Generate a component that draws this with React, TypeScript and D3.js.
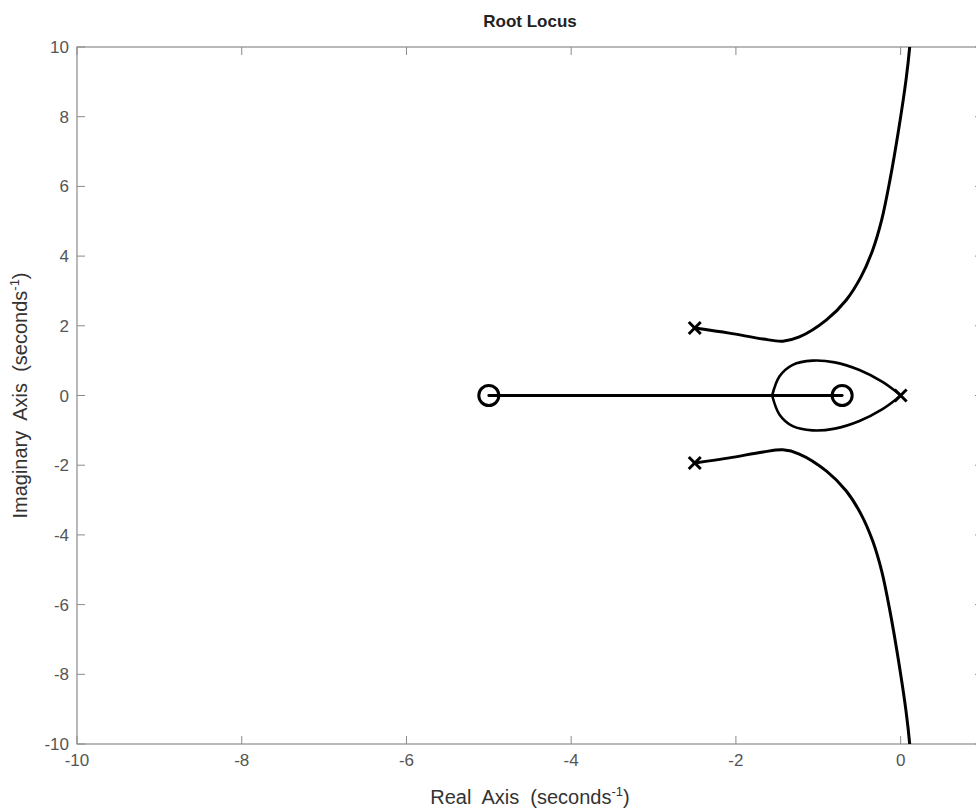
import React from "react";
import * as d3 from "d3";

type Pt = [number, number];

// values
const xTicks = [-10, -8, -6, -4, -2, 0];
const yTicks = [-10, -8, -6, -4, -2, 0, 2, 4, 6, 8, 10];

const poles: Pt[] = [
  [0, 0],
  [-2.5, 1.936],
  [-2.5, -1.936],
];
const zeros: Pt[] = [
  [-5, 0],
  [-0.71, 0],
];

const upperBranch: Pt[] = [
  [-2.5, 1.936],
  [-2.08, 1.79],
  [-1.67, 1.62],
  [-1.43, 1.56],
  [-1.23, 1.68],
  [-0.9, 2.17],
  [-0.66, 2.74],
  [-0.48, 3.41],
  [-0.34, 4.17],
  [-0.23, 5.04],
  [-0.13, 6.18],
  [-0.025, 7.62],
  [0.065, 9.05],
  [0.11, 10.0],
  [0.125, 10.5],
];
const lowerBranch: Pt[] = [
  [-2.5, -1.936],
  [-2.08, -1.79],
  [-1.67, -1.62],
  [-1.43, -1.56],
  [-1.23, -1.68],
  [-0.9, -2.17],
  [-0.66, -2.74],
  [-0.48, -3.41],
  [-0.34, -4.17],
  [-0.23, -5.04],
  [-0.13, -6.18],
  [-0.025, -7.62],
  [0.065, -9.05],
  [0.11, -10.0],
  [0.125, -10.5],
];
const loopUpper: Pt[] = [
  [0, 0],
  [-0.05, 0.1],
  [-0.22, 0.39],
  [-0.5, 0.73],
  [-0.8, 0.95],
  [-1.07, 1.0],
  [-1.31, 0.88],
  [-1.47, 0.55],
  [-1.56, 0],
];
const loopLower: Pt[] = [
  [0, 0],
  [-0.05, -0.1],
  [-0.22, -0.39],
  [-0.5, -0.73],
  [-0.8, -0.95],
  [-1.07, -1.0],
  [-1.31, -0.88],
  [-1.47, -0.55],
  [-1.56, 0],
];
const realSegment: Pt[] = [
  [-5, 0],
  [-0.71, 0],
];

const W = 976;
const H = 812;
const margin = { top: 47, left: 77, bottom: 68, right: -7 };
const font = "'Liberation Sans', Arial, sans-serif";
const axisColor = "#8a8a8a";
const textColor = "#555";

const App = () => {
  const x = d3
    .scaleLinear()
    .domain([-10, 1])
    .range([margin.left, W - margin.right]);
  const y = d3
    .scaleLinear()
    .domain([-10, 10])
    .range([H - margin.bottom, margin.top]);

  const line = d3
    .line<Pt>()
    .x((d) => x(d[0]))
    .y((d) => y(d[1]))
    .curve(d3.curveCatmullRom.alpha(0.5));

  const x0 = x(-10);
  const x1 = x(1);
  const y0 = y(-10);
  const y1 = y(10);
  const tick = 8;

  return (
    <svg
      width={W}
      height={H}
      style={{ position: "absolute", left: 0, top: 0, background: "#fff" }}
      fontFamily={font}
    >
      <defs>
        <clipPath id="plot">
          <rect x={x0} y={y1} width={x1 - x0} height={y0 - y1} />
        </clipPath>
      </defs>
      <rect x={0} y={0} width={W} height={H} fill="#fff" />

      {/* axes box and ticks */}
      <rect
        x={x0}
        y={y1}
        width={x1 - x0}
        height={y0 - y1}
        fill="none"
        stroke={axisColor}
        strokeWidth={1.2}
      />
      {xTicks.map((t) => (
        <g key={"x" + t} stroke={axisColor} strokeWidth={1}>
          <line x1={x(t)} x2={x(t)} y1={y0} y2={y0 - tick} />
          <line x1={x(t)} x2={x(t)} y1={y1} y2={y1 + tick} />
        </g>
      ))}
      {yTicks.map((t) => (
        <g key={"y" + t} stroke={axisColor} strokeWidth={1}>
          <line x1={x0} x2={x0 + tick} y1={y(t)} y2={y(t)} />
          <line x1={x1} x2={x1 - tick} y1={y(t)} y2={y(t)} />
        </g>
      ))}
      {xTicks.map((t) => (
        <text
          key={"xl" + t}
          x={x(t)}
          y={y0 + 22}
          textAnchor="middle"
          fontSize={17}
          fill={textColor}
        >
          {t}
        </text>
      ))}
      {yTicks.map((t) => (
        <text
          key={"yl" + t}
          x={x0 - 8}
          y={y(t) + 6}
          textAnchor="end"
          fontSize={17}
          fill={textColor}
        >
          {t}
        </text>
      ))}

      {/* loci */}
      <g clipPath="url(#plot)" fill="none" stroke="#000" strokeLinecap="round">
        <path d={line(upperBranch) || ""} strokeWidth={3} />
        <path d={line(lowerBranch) || ""} strokeWidth={3} />
        <path d={line(loopUpper) || ""} strokeWidth={2.6} />
        <path d={line(loopLower) || ""} strokeWidth={2.6} />
        <path d={line(realSegment) || ""} strokeWidth={2.8} />
      </g>

      {/* poles and zeros */}
      {poles.map((p, i) => (
        <g key={"p" + i} stroke="#000" strokeWidth={3}>
          <line x1={x(p[0]) - 6} x2={x(p[0]) + 6} y1={y(p[1]) - 6} y2={y(p[1]) + 6} />
          <line x1={x(p[0]) - 6} x2={x(p[0]) + 6} y1={y(p[1]) + 6} y2={y(p[1]) - 6} />
        </g>
      ))}
      {zeros.map((z, i) => (
        <circle
          key={"z" + i}
          cx={x(z[0])}
          cy={y(z[1])}
          r={10}
          fill="none"
          stroke="#000"
          strokeWidth={3}
        />
      ))}

      {/* labels */}
      <text
        x={(x0 + x1) / 2}
        y={27}
        textAnchor="middle"
        fontSize={17}
        fontWeight="bold"
        fill="#222"
      >
        Root Locus
      </text>
      <text
        x={(x0 + x1) / 2}
        y={804}
        textAnchor="middle"
        fontSize={20}
        fill="#333"
        style={{ whiteSpace: "pre" }}
      >
        Real  Axis  (seconds
        <tspan dy={-8} fontSize={13}>-1</tspan>
        <tspan dy={8}>)</tspan>
      </text>
      <text
        transform={`translate(27,${(y0 + y1) / 2}) rotate(-90)`}
        textAnchor="middle"
        fontSize={20}
        fill="#333"
        style={{ whiteSpace: "pre" }}
      >
        Imaginary  Axis  (seconds
        <tspan dy={-8} fontSize={13}>-1</tspan>
        <tspan dy={8}>)</tspan>
      </text>
    </svg>
  );
};

export default App;
